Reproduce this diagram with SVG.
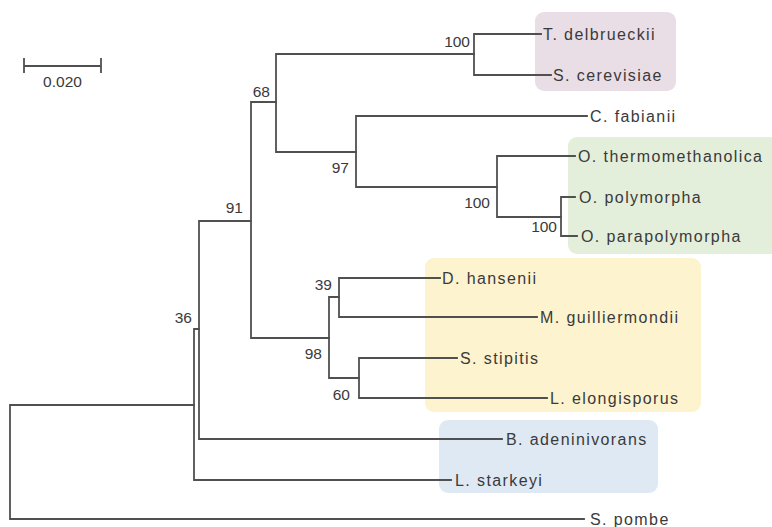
<svg xmlns="http://www.w3.org/2000/svg" width="772" height="527" viewBox="0 0 772 527">
<style>
.br{stroke:#505050;stroke-width:1.8;fill:none;stroke-linecap:square}
.tx{font-family:"Liberation Sans",Arial,sans-serif;font-size:16px;letter-spacing:1.4px;fill:#3a3a3a}
.bs{font-family:"Liberation Sans",Arial,sans-serif;font-size:15.5px;fill:#3a3a3a}
</style>
<rect width="772" height="527" fill="#fff"/>
<g id="groups">
<rect x="535" y="12" width="141" height="79" rx="9" fill="#e9dde6"/>
<rect x="568" y="137" width="214" height="117" rx="9" fill="#e3eedb"/>
<rect x="425" y="258" width="276" height="154" rx="9" fill="#fdf3ce"/>
<rect x="439" y="420" width="219" height="73" rx="9" fill="#dee9f4"/>
</g>
<g id="scale">
<path class="br" d="M24,66H101M24,59V72M101,59V72"/>
<text class="bs" x="62.5" y="87" text-anchor="middle">0.020</text>
</g>
<g id="connectors">
<path class="br" d="M10,405V519M10,405H194M10,519H584"/>
<path class="br" d="M194,329V480M194,329H199M194,480H451"/>
<path class="br" d="M199,221V439M199,221H251M199,439H502"/>
<path class="br" d="M251,102V338M251,102H276M251,338H329"/>
<path class="br" d="M276,54V152M276,54H474M276,152H356"/>
<path class="br" d="M474,34V75M474,34H541M474,75H551"/>
<path class="br" d="M356,116V187M356,116H587M356,187H497"/>
<path class="br" d="M497,156V217M497,156H575M497,217H561"/>
<path class="br" d="M561,197V236M561,197H575M561,236H577"/>
<path class="br" d="M329,297V378M329,297H339M329,378H359"/>
<path class="br" d="M339,278V317M339,278H440M339,317H537"/>
<path class="br" d="M359,358V398M359,358H457M359,398H547"/>
</g>
<g id="bootstrap">
<text class="bs" x="470" y="47" text-anchor="end">100</text>
<text class="bs" x="270" y="97" text-anchor="end">68</text>
<text class="bs" x="243" y="213" text-anchor="end">91</text>
<text class="bs" x="192" y="323" text-anchor="end">36</text>
<text class="bs" x="349" y="173" text-anchor="end">97</text>
<text class="bs" x="490" y="208" text-anchor="end">100</text>
<text class="bs" x="557" y="232" text-anchor="end">100</text>
<text class="bs" x="332" y="290" text-anchor="end">39</text>
<text class="bs" x="322" y="359" text-anchor="end">98</text>
<text class="bs" x="350" y="400" text-anchor="end">60</text>
</g>
<g id="taxa">
<text class="tx" x="543" y="40">T. delbrueckii</text>
<text class="tx" x="553" y="81">S. cerevisiae</text>
<text class="tx" x="590" y="122">C. fabianii</text>
<text class="tx" x="578" y="162">O. thermomethanolica</text>
<text class="tx" x="579" y="203">O. polymorpha</text>
<text class="tx" x="581" y="242">O. parapolymorpha</text>
<text class="tx" x="442" y="284">D. hansenii</text>
<text class="tx" x="540" y="323">M. guilliermondii</text>
<text class="tx" x="460" y="364">S. stipitis</text>
<text class="tx" x="550" y="404">L. elongisporus</text>
<text class="tx" x="506" y="445">B. adeninivorans</text>
<text class="tx" x="455" y="486">L. starkeyi</text>
<text class="tx" x="590" y="525">S. pombe</text>
</g>
</svg>
